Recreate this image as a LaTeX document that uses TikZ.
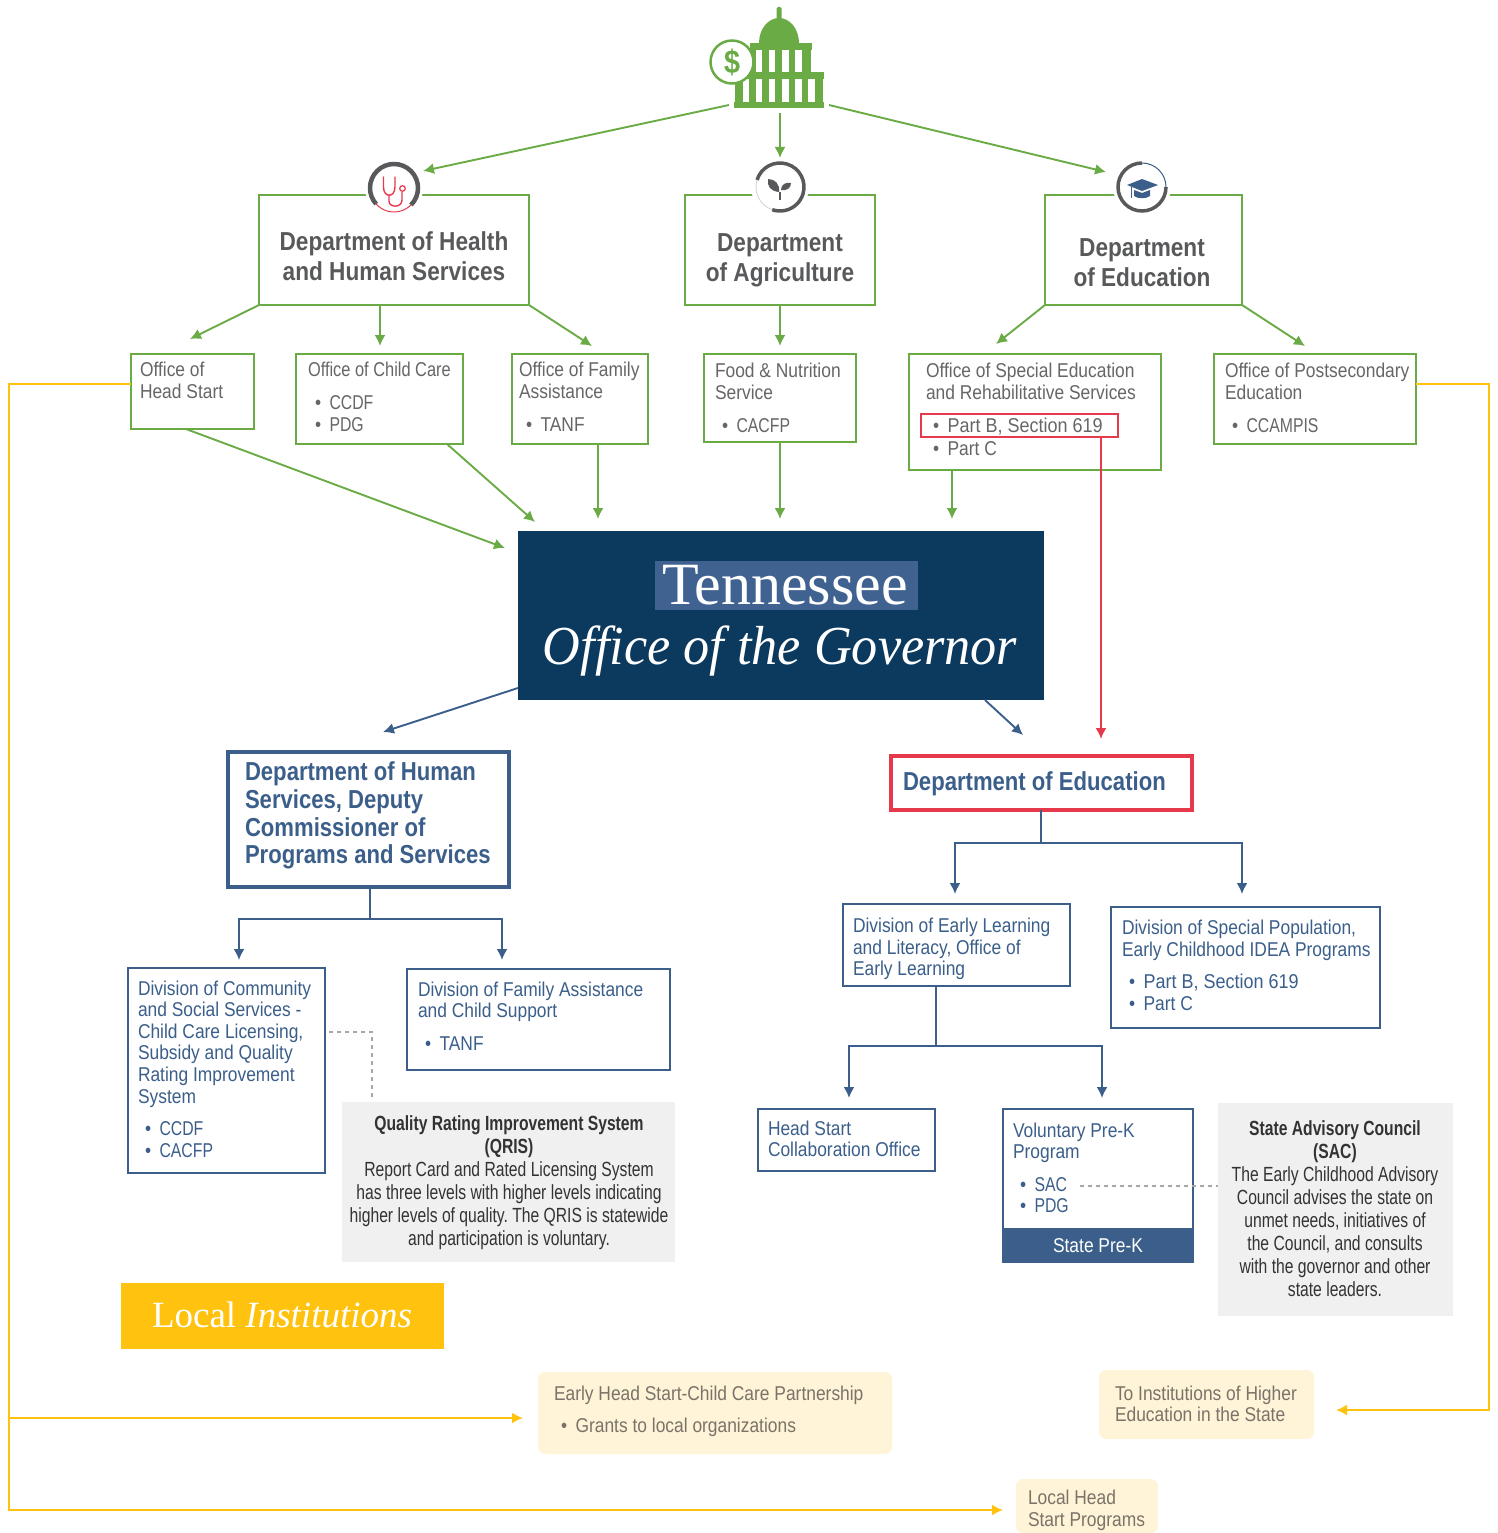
\documentclass[tikz,border=0pt]{standalone}
\usepackage{fontspec}
\setmainfont[FakeStretch=0.87]{Liberation Sans}
\newfontfamily\cnd[FakeStretch=0.765]{Liberation Sans}
\newfontfamily\capf[FakeStretch=0.79]{Liberation Sans}
\newfontfamily\cca[FakeStretch=0.82]{Liberation Sans}
\newfontfamily\wid[FakeStretch=0.90]{Liberation Sans}
\newfontfamily\tit[FakeStretch=0.85]{Liberation Sans}
\newfontfamily\dep[FakeStretch=0.87]{Liberation Sans}
\newfontfamily\srf{Liberation Serif}
\newfontfamily\srfn[FakeStretch=0.95]{Liberation Serif}
\usetikzlibrary{arrows.meta}
\frenchspacing
\definecolor{grn}{HTML}{6AAB46}
\definecolor{navy}{HTML}{0B3A5E}
\definecolor{blu}{HTML}{3B5F8A}
\definecolor{hl}{HTML}{3F6290}
\definecolor{rd}{HTML}{E63A4C}
\definecolor{yel}{HTML}{FFC20E}
\definecolor{crm}{HTML}{FFF3D8}
\definecolor{gbg}{HTML}{F0F0F0}
\definecolor{gtx}{HTML}{666666}
\definecolor{ttl}{HTML}{58595B}
\definecolor{ctx}{HTML}{7A7468}
\definecolor{dsh}{HTML}{A6A6A6}
\tikzset{
  rct/.style={rectangle,inner sep=0pt,outer sep=0pt},
  gbox/.style={rct,draw=grn,line width=2.5pt,fill=white},
  bbox/.style={rct,draw=blu,line width=2.2pt,fill=white},
  hbox/.style={rct,draw=blu,line width=3.2pt,fill=white},
  rbox/.style={rct,draw=rd,line width=3.2pt,fill=white},
  rthin/.style={rct,draw=rd,line width=2.2pt},
  panel/.style={rct,fill=gbg},
  cream/.style={rct,fill=crm,rounded corners=7pt},
  txt/.style={inner sep=0pt,outer sep=0pt,anchor=north west,align=left,font=\fontsize{20}{21.6}\selectfont},
  gt/.style={txt,text=gtx},
  bt/.style={txt,text=blu},
  ct/.style={txt,text=ctx},
  ttlt/.style={inner sep=0pt,align=center,text=ttl,font=\fontsize{26}{30}\dep\bfseries},
  bigb/.style={inner sep=0pt,outer sep=0pt,anchor=north west,align=left,text=blu,font=\fontsize{26}{27.7}\tit\bfseries},
  pnl/.style={inner sep=0pt,align=center,text=black!80,font=\fontsize{20.5}{23}\cnd},
  garr/.style={draw=grn,line width=1.9pt,-{Latex[length=11pt,width=11pt]}},
  barr/.style={draw=blu,line width=1.9pt,-{Latex[length=11pt,width=11pt]}},
  rarr/.style={draw=rd,line width=1.9pt,-{Latex[length=11pt,width=11pt]}},
  yarr/.style={draw=yel,line width=1.9pt,-{Latex[length=11pt,width=11pt]}},
  bline/.style={draw=blu,line width=1.9pt},
  dline/.style={draw=dsh,line width=2.6pt,dash pattern=on 4pt off 4pt},
  hole/.style={circle,fill=white,inner sep=0pt,minimum size=58pt},
}
\newcommand{\bx}[6]{\node[#2,anchor=north west,minimum width={(#5-#3)*1pt},minimum height={(#6-#4)*1pt}] (#1) at (#3,#4) {};}
\newcommand{\bl}[2][7]{\hspace*{#1pt}\makebox[14.5pt][l]{•}#2}
\begin{document}
\begin{tikzpicture}[x=1pt,y=-1pt]
\useasboundingbox (0,0) rectangle (1497,1533);

% free ends of the connectors
\foreach \n/\x/\y in {tl/423/171,tm/780/158,tr/1106/172,
  a1/190/339,a2/380/346,a3/592/346,a4/780/346,a5/996/344,a6/1305/346,
  g1/505/548,g2/535/522,g3/598/519,g4/780/519,g5/952/519,
  r1/1101/739,d1/383/732,d2/1023/735,
  j1/370/919,p1/239/960,p2/502/960,
  j2/1041/843,p3/955/894,p4/1242/894,
  j3/936/1046,p5/849/1098,p6/1102/1098,
  c1/729/105,c2/780/113,c3/829/105,
  y1/9/384,y2/9/1510,y3/1003/1510,y4/9/1418,y5/523/1418,
  y6/1489/384,y7/1489/1410,y8/1336/1410,
  q1/372/1032,q2/372/1100,q3/329/1032,q4/1080/1186}
  {\coordinate (\n) at (\x,\y);}

% yellow connectors (behind everything)
\bx{headstart}{gbox}{131}{354}{254}{429}
\bx{postsec}{gbox}{1214}{354}{1416}{444}
\bx{ehs}{cream}{538}{1372}{892}{1454}
\bx{higher}{cream}{1099}{1370}{1314}{1439}
\bx{localhs}{cream}{1016}{1479}{1158}{1533}
\draw[yarr] (headstart.west |- y1) -- (y1) -- (y2) -- (y3);
\draw[yarr] (y4) -- (y5);
\draw[yarr] (postsec.east |- y6) -- (y6) -- (y7) -- (y8);

% departments
\bx{hhs}{gbox}{259}{195}{529}{305}
\bx{agri}{gbox}{685}{195}{875}{305}
\bx{edu}{gbox}{1045}{195}{1242}{305}
% offices
\bx{childcare}{gbox}{296}{354}{463}{444}
\bx{family}{gbox}{512}{354}{648}{444}
\bx{food}{gbox}{704}{354}{856}{442}
\bx{osers}{gbox}{909}{354}{1161}{470}

% green connectors
\draw[garr] (c1) -- (tl);
\draw[garr] (c2) -- (tm);
\draw[garr] (c3) -- (tr);
\draw[garr] (hhs.south west) -- (a1);
\draw[garr] (hhs.south -| a2) -- (a2);
\draw[garr] (hhs.south east) -- (a3);
\draw[garr] (agri.south -| a4) -- (a4);
\draw[garr] (edu.south west) -- (a5);
\draw[garr] (edu.south east) -- (a6);
\draw[garr] (186,429) -- (g1);
\draw[garr] (447,444) -- (g2);
\draw[garr] (family.south -| g3) -- (g3);
\draw[garr] (food.south -| g4) -- (g4);
\draw[garr] (osers.south -| g5) -- (g5);

% governor
\bx{gov}{rct,fill=navy}{518}{531}{1044}{700}
\bx{govhl}{rct,fill=hl}{655}{561}{918}{610}
\node[inner sep=0pt,text=white,font=\fontsize{60}{60}\srf] (govt) at (785,585) {Tennessee};
\node[inner sep=0pt,text=white,font=\fontsize{55}{55}\srfn\itshape] (govo) at (780,651) {Office of the Governor};

% red highlight
\bx{partb}{rthin}{921}{414}{1118}{437}
\bx{doe}{rbox}{891}{756}{1192}{810}
\draw[rarr] (partb.south -| r1) -- (r1);

% blue connectors
\bx{dhs}{hbox}{228}{752}{509}{887}
\bx{divcom}{bbox}{128}{968}{325}{1173}
\bx{divfam}{bbox}{407}{969}{670}{1070}
\bx{divearly}{bbox}{843}{904}{1070}{986}
\bx{divspec}{bbox}{1111}{907}{1380}{1028}
\bx{hscollab}{bbox}{758}{1109}{935}{1171}
\bx{vpk}{bbox}{1003}{1109}{1193}{1262}
\bx{spk}{rct,fill=blu}{1002}{1228}{1194}{1263}
\draw[barr] (gov.west |- 0,688) -- (d1);
\draw[barr] (985,700) -- (d2);
\draw[bline] (dhs.south -| j1) -- (j1);
\draw[barr] (j1) -| (p1);
\draw[barr] (j1) -| (p2);
\draw[bline] (doe.south -| j2) -- (j2);
\draw[barr] (j2) -| (p3);
\draw[barr] (j2) -| (p4);
\draw[bline] (divearly.south -| j3) -- (j3);
\draw[barr] (j3) -| (p5);
\draw[barr] (j3) -| (p6);

% panels
\bx{qris}{panel}{342}{1102}{675}{1262}
\bx{sac}{panel}{1218}{1103}{1453}{1316}
\draw[dline] (q3) -- (q1) -- (q2);
\draw[dline] (q4) -- (sac.west |- q4);
\bx{local}{rct,fill=yel}{121}{1283}{444}{1349}

% capitol icon
\node[rct,minimum width=90pt,minimum height=100pt,anchor=north west] (capitol) at (734,8) {};
\fill[grn,rounded corners=1.5pt] (776.5,7) rectangle (781.5,22);
\fill[grn] (759,43) arc[start angle=180,end angle=0,x radius=20pt,y radius=25pt] -- cycle;
\fill[grn] (750,43) rectangle (812,50);
\fill[grn] (750,50) rectangle (811,72);
\fill[grn] (734,72) rectangle (824,79);
\fill[grn] (735,79) rectangle (823,102);
\fill[grn] (734,102) rectangle (824,108);
\foreach \a/\b in {756/762,769/775,782/789,795/802}{\fill[white] (\a,50) rectangle (\b,72);}
\foreach \a/\b in {743/749,756/762,769/775,782/789,795/802,808/815}{\fill[white] (\a,79) rectangle (\b,102);}
\node[circle,draw=grn,line width=2.5pt,fill=white,minimum size=43pt,inner sep=0pt,text=grn,font=\fontsize{33}{33}\selectfont\bfseries] (dollar) at (732,62) {\$};

% department icons
\node[hole] (ihhs) at (394,188) {};
\draw[ttl,line width=4.5pt] (ihhs.center) ++(-45:24pt) arc[start angle=-45,end angle=222,radius=24pt];
\draw[rd,line width=1pt] (ihhs.center) ++(222:24pt) arc[start angle=222,end angle=315,radius=24pt];
\draw[rd,line width=1.4pt,line cap=round] (383.5,177) -- (383.5,187) .. controls (383.5,198) and (395,198) .. (395,187) -- (395,177);
\draw[rd,line width=1.4pt] (389,195) -- (389,201) .. controls (389,208) and (402,208) .. (402,200) -- (402,192);
\draw[rd,line width=1.2pt] (402.5,188.5) circle[radius=2.8];

\node[hole] (iagri) at (780,187) {};
\draw[ttl,line width=3.5pt] (iagri.center) ++(163:24pt) arc[start angle=163,end angle=-109,radius=24pt];
\draw[gray!30,line width=1pt] (iagri.center) ++(163:24pt) arc[start angle=163,end angle=251,radius=24pt];
\draw[ttl,line width=1.4pt] (780,200) -- (780,192);
\fill[ttl] (779,192) .. controls (770,191) and (767,186) .. (768,179) .. controls (775,179) and (780,184) .. (779,192) -- cycle;
\fill[ttl] (781,190) .. controls (781,184) and (786,182) .. (791,183) .. controls (791,188) and (787,191) .. (781,190) -- cycle;

\node[hole] (iedu) at (1142,187) {};
\draw[ttl,line width=3.5pt] (iedu.center) ++(90:24pt) arc[start angle=90,end angle=360,radius=24pt];
\draw[blu,line width=1pt] (iedu.center) ++(0:24pt) arc[start angle=0,end angle=90,radius=24pt];
\fill[blu] (1142,179) -- (1158,185) -- (1142,191) -- (1127,185) -- cycle;
\fill[blu] (1134,190) -- (1142,193) -- (1150,190) -- (1150,196) .. controls (1146,199) and (1138,199) .. (1134,196) -- cycle;
\draw[blu,line width=1.2pt] (1131.5,187) -- (1131.5,198);

% department titles
\node[ttlt] (thhs) at (394,256) {Department of Health\\and Human Services};
\node[ttlt] (tagri) at (780,260.5) {Department\\of Agriculture};
\node[ttlt] (tedu) at (1142,263) {Department\\of Education};

% office texts
\node[gt] (t1) at (140,362.5) {Office of\\Head Start};
\node[gt] (t2) at (308,362.5) {{\cca Office of Child Care}\\[11pt]\bl{\capf CCDF}\\\bl{\capf PDG}};
\node[gt] (t3) at (519,362.5) {Office of Family\\Assistance\\[11pt]\bl{TANF}};
\node[gt] (t4) at (715,363.5) {Food \& Nutrition\\Service\\[11pt]\bl{\capf CACFP}};
\node[gt] (t5) at (926,363.5) {Office of Special Education\\and Rehabilitative Services\\[11pt]\bl{\wid Part B, Section 619}\\[2pt]\bl{Part C}};
\node[gt] (t6) at (1225,363.5) {Office of Postsecondary\\Education\\[11pt]\bl{\capf CCAMPIS}};

% state agency texts
\node[bigb] (t7) at (245,762) {Department of Human\\Services, Deputy\\Commissioner of\\Programs and Services};
\node[bigb] (t8) at (903,772) {Department of Education};
\node[bt] (t9) at (138,980.5) {Division of Community\\and Social Services -\\Child Care Licensing,\\Subsidy and Quality\\Rating Improvement\\System\\[11pt]\bl{\capf CCDF}\\\bl{\capf CACFP}};
\node[bt] (t10) at (418,981.5) {Division of Family Assistance\\and Child Support\\[11pt]\bl{TANF}};
\node[bt] (t11) at (853,918) {Division of Early Learning\\and Literacy, Office of\\Early Learning};
\node[bt] (t12) at (1122,920) {Division of Special Population,\\Early Childhood IDEA Programs\\[11pt]\bl{\wid Part B, Section 619}\\\bl{Part C}};
\node[bt] (t13) at (768,1120.5) {Head Start\\Collaboration Office};
\node[bt] (t14) at (1013,1122.5) {Voluntary Pre-K\\Program\\[11pt]\bl{\capf SAC}\\\bl{\capf PDG}};
\node[inner sep=0pt,text=white,font=\fontsize{20}{22}\selectfont] (t15) at (1098,1246) {State Pre-K};

% panel texts
\node[pnl,anchor=north] (t16) at (509,1115) {\textbf{Quality Rating Improvement System}\\\textbf{(QRIS)}\\Report Card and Rated Licensing System\\has three levels with higher levels indicating\\higher levels of quality. The QRIS is statewide\\and participation is voluntary.};
\node[pnl,anchor=north] (t17) at (1335,1120) {\textbf{State Advisory Council}\\\textbf{(SAC)}\\The Early Childhood Advisory\\Council advises the state on\\unmet needs, initiatives of\\the Council, and consults\\with the governor and other\\state leaders.};

% local
\node[inner sep=0pt,text=white,font=\fontsize{37}{37}\srf] (t18) at (282,1315) {Local \textit{Institutions}};
\node[ct] (t19) at (554,1385.5) {Early Head Start-Child Care Partnership\\[11pt]\bl{Grants to local organizations}};
\node[ct] (t20) at (1115,1385.5) {To Institutions of Higher\\Education in the State};
\node[ct] (t21) at (1028,1490) {Local Head\\Start Programs};
\end{tikzpicture}
\end{document}
